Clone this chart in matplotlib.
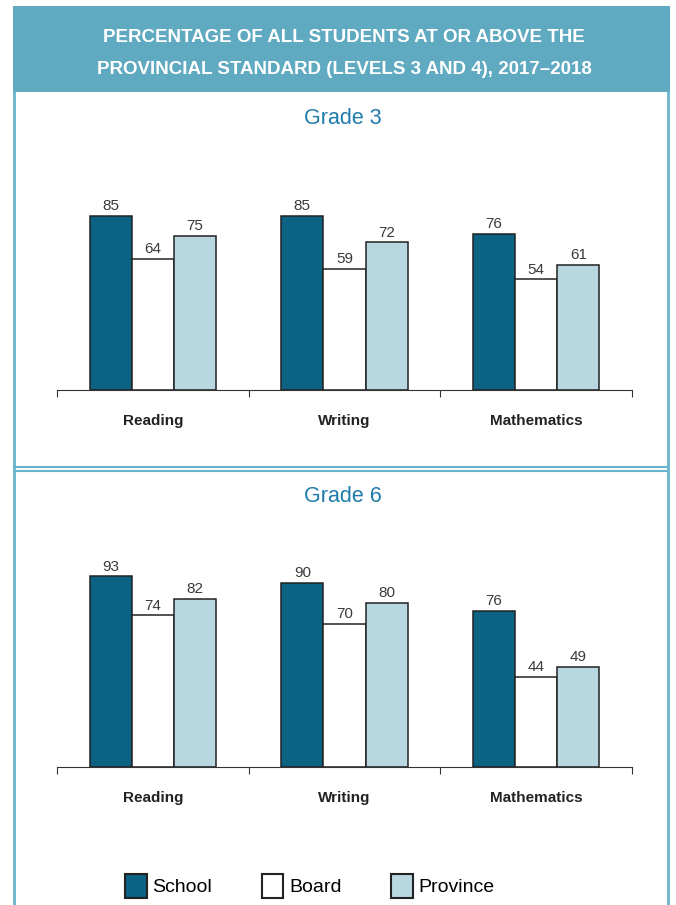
import numpy as np
import matplotlib
matplotlib.use("Agg")
import matplotlib.pyplot as plt
from matplotlib.patches import Rectangle, Patch
from matplotlib.lines import Line2D

plt.rcParams['font.family'] = ['Liberation Sans', 'DejaVu Sans']

subjects = ["Reading", "Writing", "Mathematics"]
series = ["School", "Board", "Province"]
grade3 = {"School": [85, 85, 76], "Board": [64, 59, 54], "Province": [75, 72, 61]}
grade6 = {"School": [93, 90, 76], "Board": [74, 70, 44], "Province": [82, 80, 49]}

colours = {"School": "#0b6282", "Board": "#ffffff", "Province": "#b8d7e1"}
frameCol = "#68b4cb"
headCol = "#5fa9c1"
W, H = 676, 905

fig = plt.figure(figsize=(W / 100, H / 100), dpi=100)

def fx(px): return px / W
def fy(py): return 1 - py / H

# header band and panel frames
fig.add_artist(Rectangle((fx(13), fy(92)), fx(657), 86 / H, color=headCol, lw=0))
for x in (14, 668):
    fig.add_artist(Line2D([fx(x), fx(x)], [fy(92), fy(905)], color=frameCol, lw=2))
for y in (467, 471):
    fig.add_artist(Line2D([fx(14), fx(668)], [fy(y), fy(y)], color=frameCol, lw=1.5))

fig.text(fx(344), fy(37), "PERCENTAGE OF ALL STUDENTS AT OR ABOVE THE", ha="center", va="center",
         color="white", fontsize=13.5, fontweight="bold")
fig.text(fx(344), fy(70), "PROVINCIAL STANDARD (LEVELS 3 AND 4), 2017\u20132018", ha="center", va="center",
         color="white", fontsize=13.5, fontweight="bold")

def panel(data, base_px, title, title_px):
    ax = fig.add_axes([fx(57), fy(base_px), fx(575), 205 / H])
    x = np.arange(len(subjects)) + 0.5
    w = 0.22
    for i, s in enumerate(series):
        bars = ax.bar(x + (i - 1) * w, data[s], w, color=colours[s], edgecolor="#222222", lw=1.1)
        ax.bar_label(bars, padding=2, fontsize=11, color="#3a3a3a")
    ax.set_xlim(0, 3)
    ax.set_ylim(0, 100)
    for sp in ("top", "right", "left"):
        ax.spines[sp].set_visible(False)
    ax.spines["bottom"].set_color("#333333")
    ax.set_yticks([])
    ax.set_xticks([0, 1, 2, 3])
    ax.set_xticklabels([])
    ax.tick_params(axis="x", which="major", length=5, color="#333333")
    ax.set_xticks(x, minor=True)
    ax.set_xticklabels(subjects, minor=True, fontsize=11, fontweight="bold", color="#222222")
    ax.tick_params(axis="x", which="minor", length=0, pad=17)
    fig.text(fx(343), fy(title_px), title, ha="center", va="center", color="#1f7bab", fontsize=15.5)
    return ax

panel(grade3, 390, "Grade 3", 118)
panel(grade6, 767, "Grade 6", 496)

handles = [Patch(facecolor=colours[s], edgecolor="#222222", lw=1.5, label=s) for s in series]
fig.legend(handles=handles, loc="center", bbox_to_anchor=(fx(310), fy(886)), ncol=3, frameon=False,
           fontsize=14, handlelength=1.1, handleheight=1.6, handletextpad=0.3, columnspacing=2.55)

fig.savefig("out.png", dpi=100)
